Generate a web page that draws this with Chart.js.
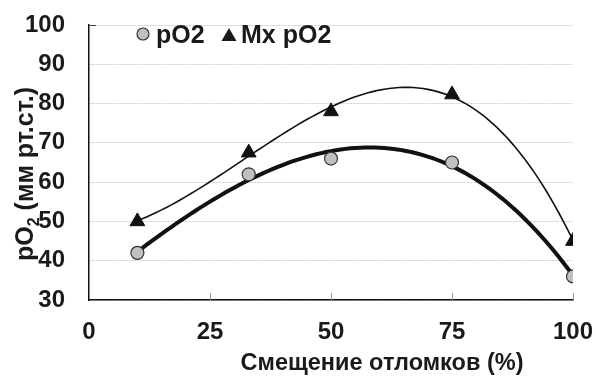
<!DOCTYPE html>
<html>
<head>
<meta charset="utf-8">
<script src="https://cdn.jsdelivr.net/npm/chart.js@4.4.1/dist/chart.umd.min.js"></script>
<style>
  html, body { margin: 0; padding: 0; background: #fff; }
  #wrap { width: 596px; height: 376px; }
</style>
</head>
<body>
<div id="wrap"><canvas id="chart"></canvas></div>
<script>
const xValues = [10, 33, 50, 75, 100];
const pO2 = [42, 62, 66, 65, 36];
const mxPO2 = [50, 67.5, 78, 82.3, 45];
const xTicks = [0, 25, 50, 75, 100];
const yTicks = [30, 40, 50, 60, 70, 80, 90, 100];

const FONT = "'Liberation Sans', Arial, sans-serif";

// least squares polynomial trendline (like the spreadsheet trendline)
function polyFit(xs, ys, deg) {
  let n = deg + 1;
  let m = [];
  for (let i = 0; i < n; i++) {
    m.push([]);
    for (let j = 0; j < n; j++) {
      let s = 0;
      xs.forEach((x) => (s += Math.pow(x, i + j)));
      m[i].push(s);
    }
    let r = 0;
    xs.forEach((x, k) => (r += Math.pow(x, i) * ys[k]));
    m[i].push(r);
  }
  for (let c = 0; c < n; c++) {
    let p = c;
    for (let r = c + 1; r < n; r++) if (Math.abs(m[r][c]) > Math.abs(m[p][c])) p = r;
    [m[c], m[p]] = [m[p], m[c]];
    for (let r = 0; r < n; r++) {
      if (r === c) continue;
      let f = m[r][c] / m[c][c];
      for (let k = c; k <= n; k++) m[r][k] -= f * m[c][k];
    }
  }
  return m.map((row, i) => row[n] / row[i]);
}

function trend(xs, ys, deg) {
  let coef = polyFit(xs, ys, deg);
  let pts = [];
  for (let x = xs[0]; x <= xs[xs.length - 1]; x += 1) {
    let y = 0;
    coef.forEach((c, i) => (y += c * Math.pow(x, i)));
    pts.push({ x: x, y: y });
  }
  return pts;
}

function toPoints(xs, ys) {
  return xs.map((x, i) => ({ x: x, y: ys[i] }));
}

const extras = {
  id: "extras",
  afterDraw(chart) {
    const ctx = chart.ctx;
    const area = chart.chartArea;
    const xs = chart.scales.x;
    const ys = chart.scales.y;
    ctx.save();

    // small inner tick marks on x axis and at the top of y axis
    ctx.strokeStyle = "#999";
    ctx.lineWidth = 1;
    xTicks.slice(1).forEach((t) => {
      let px = Math.round(xs.getPixelForValue(t)) + 0.5;
      ctx.beginPath();
      ctx.moveTo(px, area.bottom);
      ctx.lineTo(px, area.bottom - 7);
      ctx.stroke();
    });
    let top = Math.round(ys.getPixelForValue(yTicks[yTicks.length - 1])) + 0.5;
    ctx.strokeStyle = "#444";
    ctx.beginPath();
    ctx.moveTo(area.left, top);
    ctx.lineTo(area.left + 7, top);
    ctx.stroke();

    // legend
    ctx.font = "bold 25px " + FONT;
    ctx.textBaseline = "alphabetic";
    ctx.beginPath();
    ctx.arc(143, 34, 6, 0, Math.PI * 2);
    ctx.fillStyle = "#c0c0c0";
    ctx.fill();
    ctx.strokeStyle = "#333";
    ctx.lineWidth = 1.2;
    ctx.stroke();
    ctx.fillStyle = "#1a1a1a";
    ctx.fillText("pO2", 156, 43);
    ctx.beginPath();
    ctx.moveTo(229, 28);
    ctx.lineTo(236.5, 41);
    ctx.lineTo(221.5, 41);
    ctx.closePath();
    ctx.fill();
    ctx.fillText("Mx pO2", 241, 43);

    // x title
    ctx.textAlign = "center";
    ctx.font = "bold 23.5px " + FONT;
    ctx.fillText("Смещение отломков (%)", 382, 370);

    // y title with subscript
    ctx.translate(33, 174);
    ctx.rotate(-Math.PI / 2);
    ctx.textAlign = "left";
    let big = "bold 25px " + FONT;
    let small = "bold 16px " + FONT;
    ctx.font = big;
    let w1 = ctx.measureText("pO").width;
    let w3 = ctx.measureText(" (мм рт.ст.)").width;
    ctx.font = small;
    let w2 = ctx.measureText("2").width;
    let x0 = -(w1 + w2 + w3) / 2;
    ctx.font = big;
    ctx.fillText("pO", x0, 0);
    ctx.font = small;
    ctx.fillText("2", x0 + w1, 6);
    ctx.font = big;
    ctx.fillText(" (мм рт.ст.)", x0 + w1 + w2, 0);
    ctx.restore();
  },
};

new Chart(document.getElementById("chart"), {
  type: "scatter",
  data: {
    datasets: [
      {
        label: "pO2",
        data: toPoints(xValues, pO2),
        pointStyle: "circle",
        pointRadius: 6.5,
        backgroundColor: "#c0c0c0",
        borderColor: "#333",
        borderWidth: 1.2,
        order: 0,
      },
      {
        label: "Mx pO2",
        data: toPoints(xValues, mxPO2),
        pointStyle: "triangle",
        pointRadius: 8.5,
        backgroundColor: "#111",
        borderColor: "#111",
        borderWidth: 1,
        order: 0,
      },
      {
        type: "line",
        label: "trend pO2",
        data: trend(xValues, pO2, 3),
        borderColor: "#111",
        borderWidth: 4,
        pointRadius: 0,
        tension: 0,
        order: 1,
      },
      {
        type: "line",
        label: "trend Mx pO2",
        data: trend(xValues, mxPO2, 3),
        borderColor: "#111",
        borderWidth: 1.6,
        pointRadius: 0,
        tension: 0,
        order: 1,
      },
    ],
  },
  options: {
    responsive: true,
    maintainAspectRatio: false,
    animation: false,
    layout: {
      autoPadding: false,
      padding: { left: 25, right: 23, top: 25, bottom: 30 },
    },
    plugins: {
      legend: { display: false },
      tooltip: { enabled: false },
    },
    scales: {
      x: {
        type: "linear",
        min: 0,
        max: 100,
        afterBuildTicks: (axis) => (axis.ticks = xTicks.map((v) => ({ value: v }))),
        afterFit: (axis) => {
          axis.height = 46;
          axis.paddingLeft = 0;
          axis.paddingRight = 0;
        },
        ticks: {
          color: "#1a1a1a",
          padding: 18,
          maxRotation: 0,
          font: { family: FONT, size: 24, weight: "bold" },
        },
        grid: { display: false, drawTicks: false },
        border: { display: true, color: "#111", width: 1.5 },
      },
      y: {
        min: 30,
        max: 100,
        afterBuildTicks: (axis) => (axis.ticks = yTicks.map((v) => ({ value: v }))),
        afterFit: (axis) => {
          axis.width = 64;
          axis.paddingTop = 0;
          axis.paddingBottom = 0;
        },
        ticks: {
          color: "#1a1a1a",
          padding: 24,
          font: { family: FONT, size: 24, weight: "bold" },
        },
        grid: { color: "#cfcfcf", drawTicks: false, lineWidth: 1 },
        border: { display: true, color: "#111", width: 1.5, dash: [2, 1] },
      },
    },
  },
  plugins: [extras],
});
</script>
</body>
</html>
